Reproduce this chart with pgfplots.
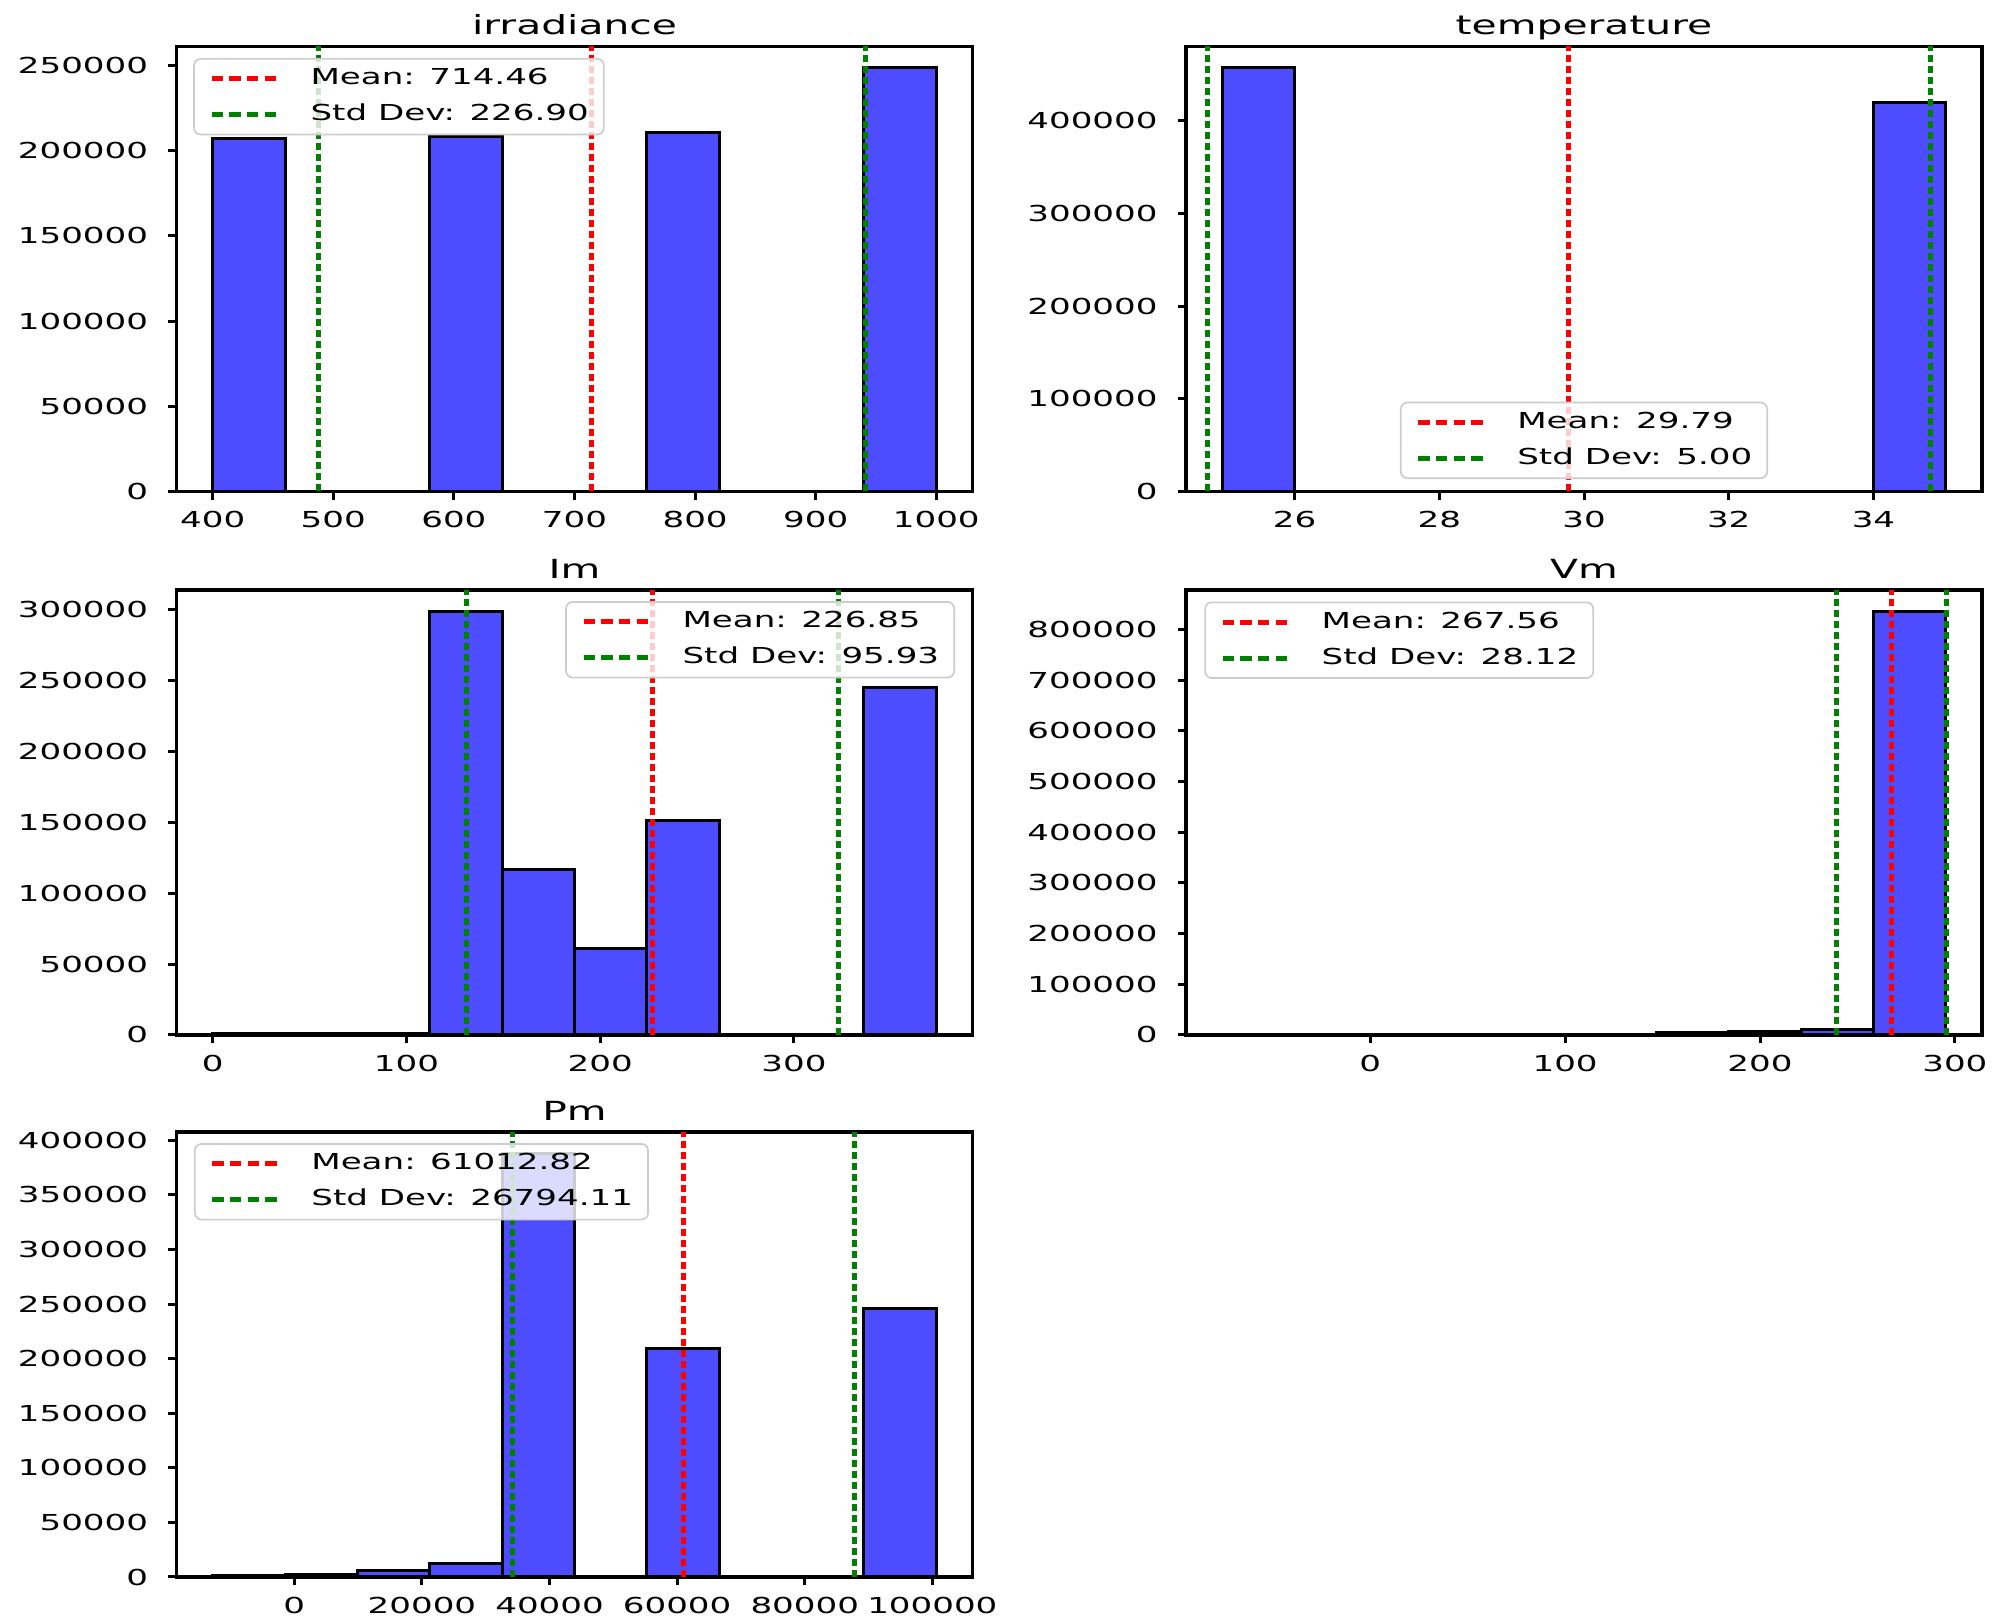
\documentclass[border=0pt]{standalone}
\usepackage{fontspec}
\setmainfont{DejaVu Sans}[FakeStretch=1.55]
\usepackage{pgfplots}
\pgfplotsset{compat=1.18}

\definecolor{barblue}{RGB}{77,77,255}
\definecolor{mplgreen}{RGB}{0,128,0}

\pgfplotsset{
  histax/.style={
    scale only axis, width=238.8pt, height=133.5pt,
    anchor=north west,
    axis line style={line width=1pt},
    tick align=outside, major tick length=2.5pt,
    xtick pos=bottom, ytick pos=left,
    tick style={black, line width=0.9pt},
    scaled ticks=false,
    /pgf/number format/.cd, fixed, 1000 sep={}, assume math mode=true, /pgfplots/.cd,
    ticklabel style={font=\fontsize{6.6}{8}\selectfont},
    yticklabel style={xshift=-2.5pt},
    title style={font=\fontsize{7.9}{9}\selectfont, at={(0.5,1)}, anchor=base, yshift=-2.5pt},
    ymin=0,
    legend cell align=left,
    legend style={font=\fontsize{6.6}{8}\selectfont, draw=black!20, line width=0.5pt,
      rounded corners=2pt, fill=white, fill opacity=0.8, draw opacity=1, text opacity=1,
      inner xsep=4.5pt, inner ysep=3pt, row sep=4.7pt,
      nodes={inner sep=0pt, text height=4.8pt, text depth=1.2pt}},
    legend image code/.code={\draw[##1, dash pattern=on 3.4pt off 1.9pt] (0pt,0pt) -- (21pt,0pt);
      \path[draw=none] (0pt,0pt) -- (29.7pt,0pt);},
  },
  histbar/.style={ybar, bar shift=0pt, fill=barblue, draw=black, line width=0.9pt, forget plot},
  meanline/.style={red, line width=1.5pt, dash pattern=on 2.2pt off 1.1pt},
  stdline/.style={mplgreen, line width=1.5pt, dash pattern=on 2.2pt off 1.1pt},
}

\begin{document}
\begin{tikzpicture}
\useasboundingbox (0,0) rectangle (602.1pt,486.3pt);

% irradiance
\begin{axis}[histax, at={(52.95pt,472.35pt)}, title={irradiance},
  xmin=370, xmax=1030, ymax=261100,
  xtick={400,500,...,1000}, ytick={0,50000,...,250000},
  legend style={at={(0.021,0.974)}, anchor=north west}]
\addplot[histbar, bar width=60] coordinates {(430,207000) (610,208000) (790,210800) (970,248660)};
\addplot[meanline] coordinates {(714.46,0) (714.46,261100)};
\addplot[stdline] coordinates {(487.56,0) (487.56,261100)};
\addplot[stdline, forget plot] coordinates {(941.36,0) (941.36,261100)};
\legend{Mean: 714.46, Std Dev: 226.90}
\end{axis}

% temperature
\begin{axis}[histax, at={(355.8pt,472.35pt)}, title={temperature},
  xmin=24.5, xmax=35.5, ymax=479850,
  xtick={26,28,...,34}, ytick={0,100000,...,400000},
  legend style={at={(0.5,0.028)}, anchor=south}]
\addplot[histbar, bar width=1] coordinates {(25.5,457000) (34.5,419400)};
\addplot[meanline] coordinates {(29.79,0) (29.79,479850)};
\addplot[stdline] coordinates {(24.79,0) (24.79,479850)};
\addplot[stdline, forget plot] coordinates {(34.79,0) (34.79,479850)};
\legend{Mean: 29.79, Std Dev: 5.00}
\end{axis}

% Im
\begin{axis}[histax, at={(52.95pt,309.3pt)}, title={Im},
  xmin=-18.675, xmax=392.175, ymax=313950,
  xtick={0,100,200,300}, ytick={0,50000,...,300000},
  legend style={at={(0.978,0.975)}, anchor=north east}]
\addplot[histbar, bar width=37.35] coordinates {(18.675,800) (56.025,700) (93.375,900)
  (130.725,299000) (168.075,116600) (205.425,60700) (242.775,151300) (354.825,245300)};
\addplot[meanline] coordinates {(226.85,0) (226.85,313950)};
\addplot[stdline] coordinates {(130.92,0) (130.92,313950)};
\addplot[stdline, forget plot] coordinates {(322.78,0) (322.78,313950)};
\legend{Mean: 226.85, Std Dev: 95.93}
\end{axis}

% Vm
\begin{axis}[histax, at={(355.8pt,309.3pt)}, title={Vm},
  xmin=-94.515, xmax=313.915, ymax=877800,
  xtick={0,100,200,300}, ytick={0,100000,...,800000},
  legend style={at={(0.023,0.974)}, anchor=north west}]
\addplot[histbar, bar width=37.13] coordinates {(16.875,1500) (54.005,1500) (91.135,1500)
  (128.265,1500) (165.395,5500) (202.525,6000) (239.655,10000) (276.785,836000)};
\addplot[meanline] coordinates {(267.56,0) (267.56,877800)};
\addplot[stdline] coordinates {(239.44,0) (239.44,877800)};
\addplot[stdline, forget plot] coordinates {(295.68,0) (295.68,877800)};
\legend{Mean: 267.56, Std Dev: 28.12}
\end{axis}

% Pm
\begin{axis}[histax, at={(52.95pt,146.7pt)}, title={Pm},
  xmin=-18465.5, xmax=106286.5, ymax=407660,
  xtick={0,20000,...,100000}, ytick={0,50000,...,400000},
  legend style={at={(0.022,0.975)}, anchor=north west}]
\addplot[histbar, bar width=11341] coordinates {(-7124.5,1200) (4216.5,2500) (15558,6200)
  (26899.5,12300) (38240.5,388250) (49581.5,900) (60922.5,209050) (94945.5,245760)};
\addplot[meanline] coordinates {(61012.82,0) (61012.82,407660)};
\addplot[stdline] coordinates {(34218.71,0) (34218.71,407660)};
\addplot[stdline, forget plot] coordinates {(87806.93,0) (87806.93,407660)};
\legend{Mean: 61012.82, Std Dev: 26794.11}
\end{axis}
\end{tikzpicture}
\end{document}
